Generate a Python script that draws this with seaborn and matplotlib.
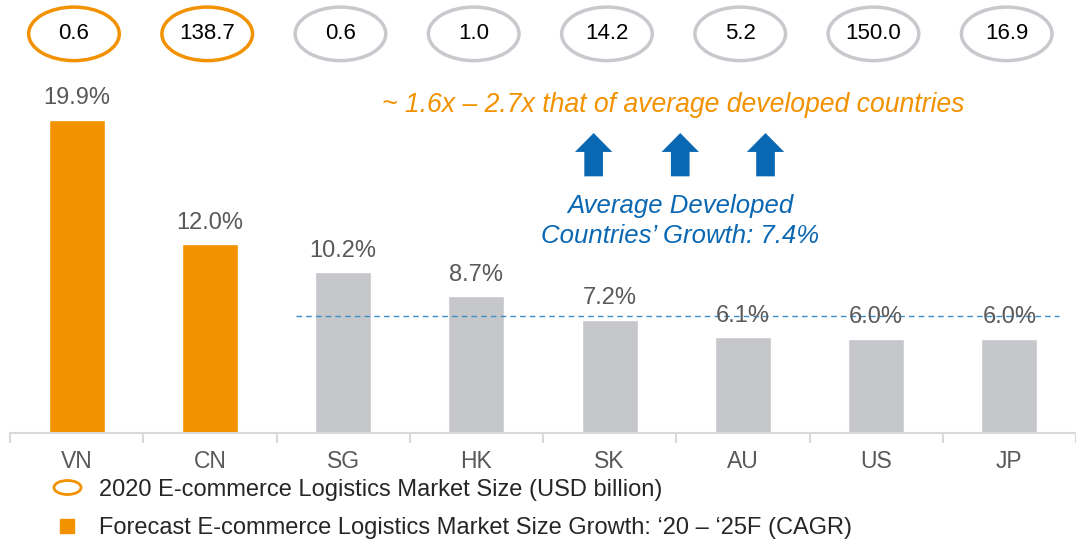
import matplotlib
matplotlib.use("Agg")
import matplotlib.pyplot as plt
import seaborn as sns
import pandas as pd
from matplotlib.patches import Ellipse, FancyArrow
from matplotlib.lines import Line2D
from matplotlib.path import Path
from matplotlib.transforms import Affine2D

# Datos del gráfico
paises = ["VN", "CN", "SG", "HK", "SK", "AU", "US", "JP"]
cagr = [19.9, 12.0, 10.2, 8.7, 7.2, 6.1, 6.0, 6.0]
mercado_2020 = [0.6, 138.7, 0.6, 1.0, 14.2, 5.2, 150.0, 16.9]
grupo = ["emergente", "emergente", "desarrollado", "desarrollado",
         "desarrollado", "desarrollado", "desarrollado", "desarrollado"]
promedio_desarrollados = 7.4

NARANJA = "#F39200"
GRIS = "#C6C7CB"
GRIS_ELIPSE = "#C8C9CD"
AZUL = "#0A67B2"
TEXTO_GRIS = "#595959"

df = pd.DataFrame({"pais": paises, "cagr": cagr, "grupo": grupo})

sns.set_style("white")
plt.rcParams["font.family"] = ["Liberation Sans", "DejaVu Sans"]

fig = plt.figure(figsize=(10.76, 5.44), dpi=100)
ax = fig.add_axes([10 / 1076, 111 / 544, 1066 / 1076, 433 / 544])

sns.barplot(data=df, x="pais", y="cagr", hue="grupo",
            palette={"emergente": NARANJA, "desarrollado": GRIS},
            width=0.42, saturation=1, legend=False, ax=ax, dodge=False)

ax.set_xlim(-0.5, len(paises) - 0.5)
ax.set_ylim(0, 27.5)
ax.set_xlabel("")
ax.set_ylabel("")
ax.set_yticks([])

# Etiquetas de porcentaje sobre las barras
for i, v in enumerate(cagr):
    ax.annotate(f"{v:.1f}%", (i, v), xytext=(0, 7.5), textcoords="offset points",
                ha="center", va="bottom", fontsize=17, color=TEXTO_GRIS)

# Elipses con tamaño de mercado 2020
for i, m in enumerate(mercado_2020):
    color = NARANJA if grupo[i] == "emergente" else GRIS_ELIPSE
    ax.add_patch(Ellipse((i - 0.02, 25.35), 0.68, 3.4, fill=False,
                         edgecolor=color, linewidth=2.5, clip_on=False))
    ax.text(i - 0.02, 25.35, f"{m:.1f}", ha="center", va="center",
            fontsize=16, color="black")

# Línea de promedio de países desarrollados
ax.plot([1.65, 7.37], [promedio_desarrollados] * 2, color="#3C8DC8",
        linestyle=(0, (4, 3)), linewidth=1)

ax.text(4.48, 20.85, "~ 1.6x – 2.7x that of average developed countries",
        ha="center", va="center", fontsize=19.2, style="italic", color=NARANJA)

for xa in [3.88, 4.53, 5.17]:
    ax.add_patch(FancyArrow(xa, 16.3, 0, 2.75, width=0.14, head_width=0.28,
                            head_length=1.2, length_includes_head=True,
                            color=AZUL, linewidth=0))

ax.text(4.53, 13.45, "Average Developed\nCountries’ Growth: 7.4%", ha="center",
        va="center", fontsize=18.5, style="italic", color=AZUL, linespacing=1.32)

# Ejes
sns.despine(ax=ax, left=True)
ax.spines["bottom"].set_color("#D9D9D9")
ax.spines["bottom"].set_linewidth(1.5)
ax.set_xticks([i - 0.5 for i in range(len(paises) + 1)], minor=True)
ax.tick_params(axis="x", which="minor", bottom=True, length=7, color="#D9D9D9",
               width=1.5, direction="out")
ax.tick_params(axis="x", which="major", bottom=True, length=0, pad=12.5,
               labelsize=16.5, labelcolor=TEXTO_GRIS)

# Leyenda
elipse = Path.unit_circle().transformed(Affine2D().scale(1.93, 1.0))
handles = [
    Line2D([], [], linestyle="none", marker=elipse, markersize=19.5,
           markerfacecolor="none", markeredgecolor=NARANJA, markeredgewidth=2),
    Line2D([], [], linestyle="none", marker="s", markersize=9.5,
           markerfacecolor=NARANJA, markeredgecolor=NARANJA),
]
etiquetas = ["2020 E-commerce Logistics Market Size (USD billion)",
             "Forecast E-commerce Logistics Market Size Growth: ‘20 – ‘25F (CAGR)"]
fig.legend(handles, etiquetas, loc="center left",
           bbox_to_anchor=(53 / 1076, 1 - 509 / 544), frameon=False,
           fontsize=17, handlelength=1.2, handletextpad=0.76, labelspacing=0.7,
           borderaxespad=0, borderpad=0)

fig.savefig("out.png", dpi=100)
